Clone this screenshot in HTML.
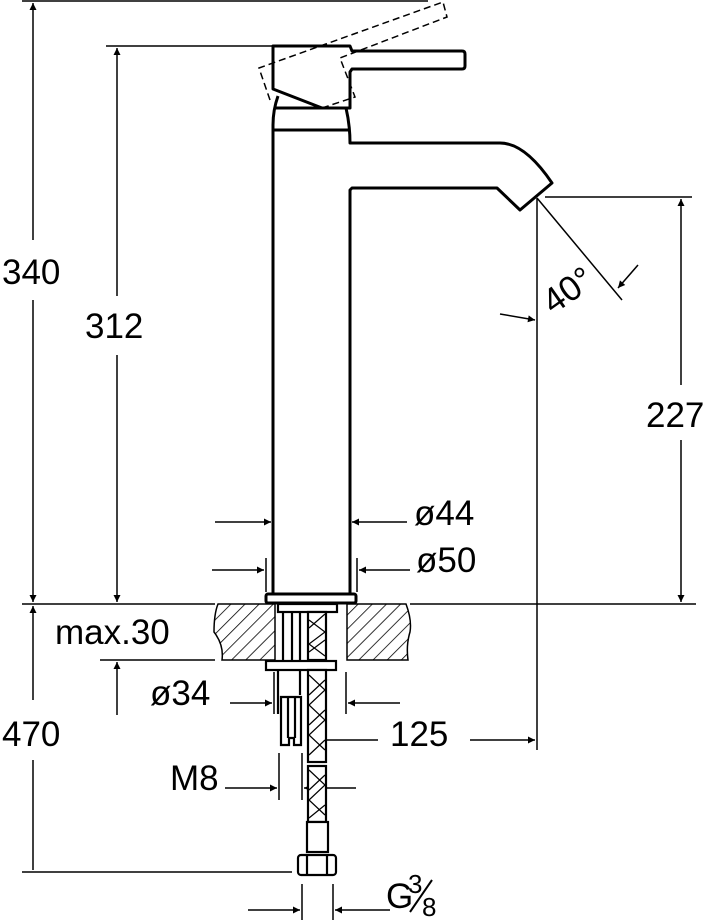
<!DOCTYPE html>
<html><head><meta charset="utf-8"><style>
html,body{margin:0;padding:0;background:#fff;}
svg{display:block;}
text{font-family:"Liberation Sans",sans-serif;fill:#000;}
</style></head><body>
<svg width="713" height="920" viewBox="0 0 713 920" xmlns="http://www.w3.org/2000/svg">
<defs>
<marker id="a" viewBox="0 0 10 10" refX="10" refY="5" markerWidth="17" markerHeight="7" markerUnits="userSpaceOnUse" orient="auto"><path d="M0,0 L10,5 L0,10 z" fill="#000"/></marker>
<pattern id="h" patternUnits="userSpaceOnUse" width="10" height="10" patternTransform="rotate(45)"><line x1="0" y1="0" x2="0" y2="10" stroke="#000" stroke-width="1.6"/></pattern>
</defs>
<g stroke="#000" fill="none" stroke-width="1.5">
<line x1="22" y1="1" x2="428" y2="1"/>
<line x1="106" y1="46" x2="273" y2="46"/>
<line x1="22" y1="604" x2="215" y2="604"/>
<line x1="410" y1="604" x2="696" y2="604"/>
<line x1="100" y1="660" x2="215" y2="660"/>
<line x1="22" y1="872" x2="292" y2="872"/>
<line x1="545" y1="197" x2="692" y2="197"/>
<line x1="33" y1="240" x2="33" y2="3" marker-end="url(#a)"/>
<line x1="33" y1="300" x2="33" y2="602" marker-end="url(#a)"/>
<line x1="117" y1="296" x2="117" y2="48" marker-end="url(#a)"/>
<line x1="117" y1="355" x2="117" y2="602" marker-end="url(#a)"/>
<line x1="33" y1="760" x2="33" y2="870"/>
<line x1="117" y1="715" x2="117" y2="662" marker-end="url(#a)"/>
<line x1="33" y1="700" x2="33" y2="606" marker-end="url(#a)"/>
<line x1="681" y1="385" x2="681" y2="199" marker-end="url(#a)"/>
<line x1="681" y1="440" x2="681" y2="602" marker-end="url(#a)"/>
<line x1="537" y1="198" x2="537" y2="750"/>
<line x1="537" y1="198" x2="622" y2="300"/>
<line x1="638" y1="265" x2="618" y2="288" marker-end="url(#a)"/>
<line x1="500" y1="314" x2="535" y2="320" marker-end="url(#a)"/>
<line x1="215" y1="522" x2="271" y2="522" marker-end="url(#a)"/>
<line x1="407" y1="522" x2="352" y2="522" marker-end="url(#a)"/>
<line x1="212" y1="570" x2="264" y2="570" marker-end="url(#a)"/>
<line x1="266" y1="558" x2="266" y2="592"/>
<line x1="357" y1="558" x2="357" y2="592"/>
<line x1="410" y1="570" x2="359" y2="570" marker-end="url(#a)"/>
<line x1="230" y1="703" x2="272" y2="703" marker-end="url(#a)"/>
<line x1="274" y1="672" x2="274" y2="714"/>
<line x1="346" y1="672" x2="346" y2="714"/>
<line x1="400" y1="703" x2="348" y2="703" marker-end="url(#a)"/>
<line x1="378" y1="740" x2="311" y2="740" marker-end="url(#a)"/>
<line x1="470" y1="740" x2="535" y2="740" marker-end="url(#a)"/>
<line x1="225" y1="788" x2="277" y2="788" marker-end="url(#a)"/>
<line x1="279" y1="753" x2="279" y2="800"/>
<line x1="302" y1="753" x2="302" y2="800"/>
<line x1="356" y1="788" x2="304" y2="788" marker-end="url(#a)"/>
<line x1="248" y1="910" x2="300" y2="910" marker-end="url(#a)"/>
<line x1="302" y1="884" x2="302" y2="920"/>
<line x1="333" y1="884" x2="333" y2="920"/>
<line x1="390" y1="910" x2="335" y2="910" marker-end="url(#a)"/>
</g>
<g stroke="#000" fill="none" stroke-width="3" stroke-linejoin="round">
<path d="M273,46 L350,46 L352,51 L462,51 Q465,51 465,54 L465,66 Q465,69 462,69 L352,69 L350,72 L350,108 L322,108 L273,89 Z"/>
<path d="M278,96 Q273,110 273,125 L273,593"/>
<path d="M346,108 Q350,125 350,143 L500,143 Q525,143 552,183 L520,210 L497,188 L352,188 L350,190 L350,593"/>
<line x1="275" y1="108" x2="348" y2="108"/>
<line x1="273" y1="130" x2="349" y2="130"/>
<rect x="266" y="594" width="90" height="9" rx="2"/>
</g>
<g stroke="#000" fill="none" stroke-width="1.5" stroke-dasharray="7,4">
<path d="M270,100 L259,68 L443,2 L447,17 L340,58 L355,97 L322,108"/>
</g>
<g stroke="#000" stroke-width="1.5">
<path d="M218,604 L275,604 L275,660 L222,660 Q224,645 214,632 Q214,614 218,604 Z" fill="url(#h)"/>
<path d="M347,604 L406,604 Q412,620 410,632 Q406,645 408,660 L347,660 Z" fill="url(#h)"/>
</g>
<g stroke="#000" fill="#fff" stroke-width="2.2">
<rect x="278" y="604" width="59" height="8"/>
<line x1="283" y1="612" x2="283" y2="660"/>
<line x1="292" y1="612" x2="292" y2="660"/>
<line x1="300" y1="612" x2="300" y2="660"/>
<rect x="266" y="661" width="70" height="9"/>
<line x1="278" y1="670" x2="278" y2="714"/>
<line x1="300" y1="670" x2="300" y2="695"/>
<path d="M281,697 L301,697 L301,745 L294,745 L294,738 L289,738 L289,745 L281,745 Z"/>
<line x1="288" y1="697" x2="288" y2="738"/>
<line x1="295" y1="697" x2="295" y2="738"/>
<rect x="308" y="612" width="18" height="48"/>
<rect x="308" y="670" width="18" height="92"/>
<rect x="308" y="766" width="18" height="56"/>
<rect x="307" y="822" width="21" height="30"/>
<rect x="298" y="855" width="38" height="20" rx="3"/>
<line x1="307" y1="855" x2="307" y2="875"/>
<line x1="327" y1="855" x2="327" y2="875"/>
</g>
<g stroke="#000" fill="none" stroke-width="1.2">
<path d="M309,620 L325,632 L309,644 L325,656 M325,614 L309,628 M325,640 L309,652"/>
<path d="M309,675 L325,690 L309,705 L325,720 L309,735 L325,750 M325,680 L309,695 M325,710 L309,725 M325,740 L309,755"/>
<path d="M309,770 L325,785 L309,800 L325,815 M325,775 L309,790 M325,805 L309,818"/>
</g>
<g font-size="35">
<text x="2" y="284">340</text>
<text x="85" y="338">312</text>
<text x="2" y="746">470</text>
<text x="646" y="427">227</text>
<text x="414" y="525">ø44</text>
<text x="416" y="572">ø50</text>
<text x="150" y="705">ø34</text>
<text x="390" y="746">125</text>
<text x="170" y="790">M8</text>
<text x="386" y="908">G</text>
<text x="408" y="893" font-size="26">3</text>
<text x="422" y="916" font-size="26">8</text>
<text x="553" y="315" transform="rotate(-35 553 315)">40°</text>
</g>
<line x1="410" y1="912" x2="432" y2="880" stroke="#000" stroke-width="2"/>
<text x="55" y="644" font-size="35">max.30</text>
</svg>
</body></html>
